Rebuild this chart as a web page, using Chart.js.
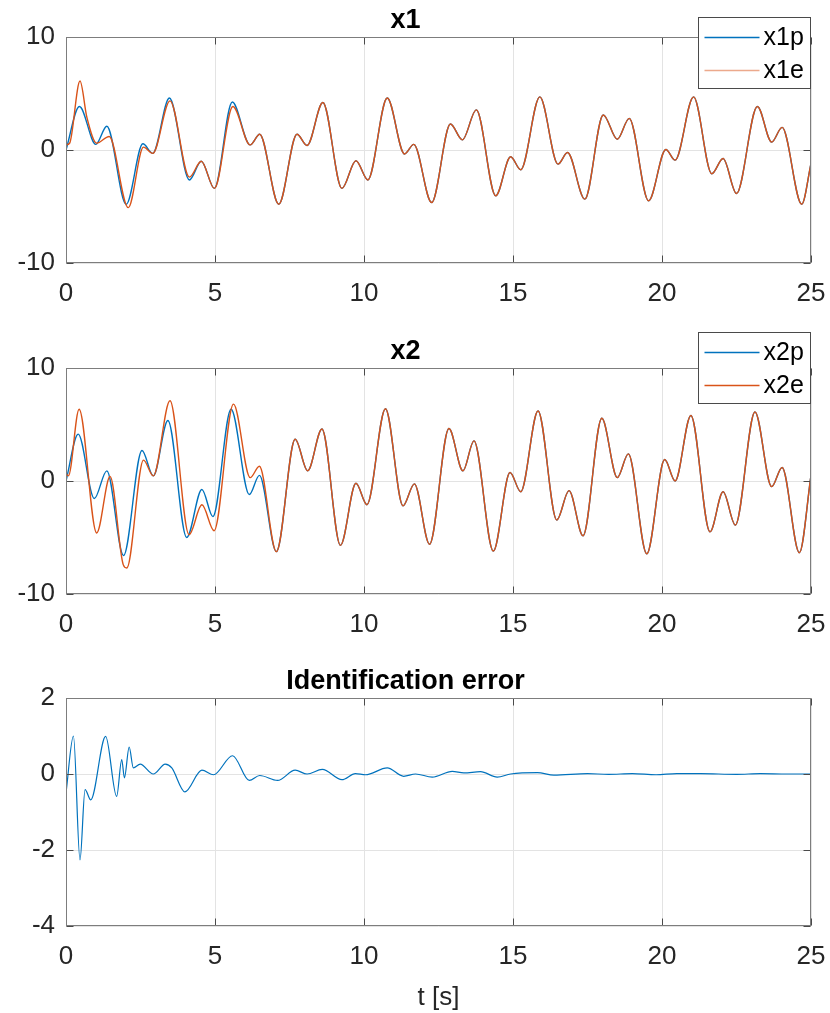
<!DOCTYPE html>
<html>
<head>
<meta charset="utf-8">
<script src="https://cdn.jsdelivr.net/npm/chart.js@4.4.1/dist/chart.umd.min.js"></script>
<style>
  html, body { margin: 0; padding: 0; background: #fff; }
  #wrap { position: relative; width: 830px; height: 1013px; }
  canvas { position: absolute; left: 0; }
</style>
</head>
<body>
<div id="wrap">
  <canvas id="c1" width="830" height="330" style="top:0px"></canvas>
  <canvas id="c2" width="830" height="330" style="top:331px"></canvas>
  <canvas id="c3" width="830" height="352" style="top:661px"></canvas>
</div>
<script>
// ---- x1: plant vs. estimate (times in s) ----
const x1pHeadT = [0, 0.45, 1.0, 1.37, 2.02, 2.58, 2.91, 3.47, 4.14, 4.54, 4.98, 5.58];
const x1pHeadV = [0, 3.85, 0.5, 2.1, -4.8, 0.55, -0.3, 4.6, -2.65, -1.0, -3.4, 4.25];
const x1eHeadT = [0, 0.12, 0.47, 0.7, 1.03, 1.45, 2.09, 2.6, 2.91, 3.49, 4.14, 4.54, 4.98, 5.6];
const x1eHeadV = [0.45, 0.6, 6.1, 2.9, 0.6, 1.2, -5.1, 0.25, -0.3, 4.35, -2.4, -1.0, -3.4, 3.85];
const x1TailT = [6.18, 6.5, 7.14, 7.75, 8.09, 8.62, 9.26, 9.73, 10.13, 10.78, 11.36, 11.67,
  12.27, 12.9, 13.3, 13.77, 14.42, 14.92, 15.26, 15.9, 16.51, 16.83, 17.41, 18.03, 18.5,
  18.9, 19.55, 20.13, 20.44, 21.06, 21.67, 22.05, 22.5, 23.2, 23.68, 24.03, 24.69, 25];
const x1TailV = [0.45, 1.4, -4.8, 1.4, 0.4, 4.2, -3.4, -0.95, -2.65, 4.6, -0.35, 0.5,
  -4.65, 2.3, 0.9, 3.55, -4.05, -0.6, -1.75, 4.7, -1.25, -0.22, -4.35, 3.1, 0.95,
  2.8, -4.5, 0.05, -0.9, 4.7, -2.1, -0.75, -3.85, 3.85, 0.7, 2.0, -4.8, -1.2];

// ---- x2: plant vs. estimate ----
const x2pHeadT = [0, 0.41, 0.95, 1.37, 1.93, 2.55, 2.93, 3.42, 4.05, 4.56, 4.93, 5.54, 6.15, 6.49];
const x2pHeadV = [0, 4.15, -1.55, 0.9, -6.6, 2.7, 0.45, 5.35, -5.0, -0.75, -3.15, 6.35, -1.2, 0.5];
const x2eHeadT = [0, 0.08, 0.44, 1.03, 1.48, 1.92, 2.04, 2.6, 2.93, 3.49, 4.13, 4.56, 4.97, 5.62, 6.18, 6.49];
const x2eHeadV = [0.7, 0.45, 6.35, -4.6, 0.4, -7.4, -7.7, 1.85, 0.45, 7.1, -4.75, -2.1, -4.4, 6.8, 0.3, 1.3];
const x2TailT = [7.06, 7.69, 8.11, 8.59, 9.21, 9.73, 10.1, 10.72, 11.31, 11.69, 12.2, 12.85,
  13.32, 13.69, 14.34, 14.9, 15.26, 15.84, 16.47, 16.88, 17.35, 17.98, 18.5, 18.87, 19.49,
  20.09, 20.44, 20.97, 21.61, 22.05, 22.46, 23.12, 23.68, 24.03, 24.61, 25];
const x2TailV = [-6.25, 3.7, 0.9, 4.6, -5.7, -0.2, -2.1, 6.4, -2.2, -0.25, -5.6, 4.65,
  0.9, 3.55, -6.2, 0.75, -0.95, 6.2, -3.45, -0.85, -4.85, 5.55, 0.3, 2.4, -6.45,
  1.9, 0.0, 5.8, -4.5, -0.95, -3.9, 6.1, -0.5, 1.2, -6.35, 0.5];

// ---- identification error ----
const errT = [0, 0.25, 0.47, 0.64, 0.83, 1.33, 1.7, 1.87, 1.96, 2.12, 2.26, 2.49, 2.93, 3.33,
  3.55, 3.99, 4.56, 4.95, 5.59, 6.15, 6.5, 7.1, 7.69, 8.09, 8.6, 9.26, 9.71, 10.05, 10.78,
  11.33, 11.73, 12.29, 12.96, 13.35, 13.91, 14.47, 14.92, 15.82, 16.37, 17.5, 18.2, 19.0,
  19.8, 20.5, 21.3, 22.5, 23.3, 24.2, 25];
const errV = [-0.5, 1.0, -2.26, -0.41, -0.68, 0.99, -0.59, 0.38, -0.1, 0.71, 0.16, 0.26, 0.0, 0.26,
  0.16, -0.47, 0.1, -0.02, 0.48, -0.17, -0.04, -0.17, 0.1, 0.0, 0.12, -0.15, 0.01, -0.02, 0.16,
  -0.06, 0.0, -0.08, 0.07, 0.03, 0.06, -0.08, 0.0, 0.035, -0.03, 0.01, -0.01, 0.01,
  -0.02, 0.01, 0.01, -0.01, 0.01, 0.0, 0.0];

const xTicks = [0, 5, 10, 15, 20, 25];

const BLUE = '#0072BD';
const ORANGE = '#D95319';
const FONT = '"Liberation Sans", Arial, Helvetica, sans-serif';
const TEXT = '#262626';

Chart.defaults.font.family = FONT;
Chart.defaults.color = TEXT;

const pts = (ts, vs) => ts.map((t, i) => ({ x: t, y: vs[i] }));

// axes box plus MATLAB-style inward tick marks
const boxTicks = {
  id: 'boxTicks',
  afterDatasetsDraw(chart) {
    const { ctx, chartArea: a, scales } = chart;
    const L = Math.round(a.left) + 0.5, R = Math.round(a.right) - 0.5;
    const T = Math.round(a.top) + 0.5, B = Math.round(a.bottom) - 0.5;
    ctx.save();
    ctx.lineWidth = 1;
    ctx.strokeStyle = '#4a4a4a';
    ctx.beginPath();
    scales.x.ticks.forEach(tk => {
      const px = Math.round(scales.x.getPixelForValue(tk.value)) + 0.5;
      ctx.moveTo(px, B); ctx.lineTo(px, B - 7);
      ctx.moveTo(px, T); ctx.lineTo(px, T + 7);
    });
    scales.y.ticks.forEach(tk => {
      const py = Math.round(scales.y.getPixelForValue(tk.value)) + 0.5;
      ctx.moveTo(L, py); ctx.lineTo(L + 7, py);
      ctx.moveTo(R, py); ctx.lineTo(R - 7, py);
    });
    ctx.stroke();
    ctx.strokeStyle = '#7d7d7d';
    ctx.strokeRect(L, T, R - L, B - T);
    ctx.restore();
  }
};

// boxed legend in the upper right corner
const boxLegend = {
  id: 'boxLegend',
  afterDraw(chart, args, opts) {
    if (!opts || !opts.show) return;
    const { ctx, chartArea: a } = chart;
    const w = 113, h = 71;
    const left = Math.round(a.right - w) + 0.5, top = opts.top + 0.5;
    ctx.save();
    ctx.fillStyle = '#fff';
    ctx.fillRect(left, top, w - 1, h);
    ctx.strokeStyle = '#4a4a4a';
    ctx.lineWidth = 1;
    ctx.strokeRect(left, top, w - 1, h);
    ctx.font = '25px ' + FONT;
    ctx.textBaseline = 'middle';
    chart.data.datasets.forEach((ds, i) => {
      const y = Math.round(top + 19 + i * 33) + 0.5;
      ctx.strokeStyle = (opts.lineColors && opts.lineColors[i]) || ds.borderColor;
      ctx.lineWidth = 1.4;
      ctx.beginPath();
      ctx.moveTo(left + 6, y); ctx.lineTo(left + 61, y);
      ctx.stroke();
      ctx.fillStyle = '#000';
      ctx.fillText(ds.label, left + 65, y + 1);
    });
    ctx.restore();
  }
};

function makeChart(id, title, datasets, yMin, yMax, yStep, xAxisH, legend, xTitle) {
  return new Chart(document.getElementById(id), {
    type: 'line',
    data: { datasets },
    plugins: [boxTicks, boxLegend],
    options: {
      responsive: false,
      animation: false,
      devicePixelRatio: 1,
      layout: { padding: { left: 0, right: 19, top: 0, bottom: 0 } },
      elements: {
        point: { radius: 0 },
        line: { borderWidth: 1.4, cubicInterpolationMode: 'monotone' }
      },
      plugins: {
        legend: { display: false },
        tooltip: { enabled: false },
        title: {
          display: true,
          text: title,
          color: '#000',
          font: { size: 27, weight: 'bold' },
          padding: { top: 4, bottom: 0.6 }
        },
        boxLegend: legend
      },
      scales: {
        x: {
          type: 'linear',
          min: 0, max: 25,
          afterBuildTicks: s => { s.ticks = xTicks.map(v => ({ value: v })); },
          afterFit: s => { s.height = xAxisH; s.paddingLeft = 0; s.paddingRight = 0; },
          ticks: { font: { size: 26 }, color: TEXT, padding: 15, maxRotation: 0 },
          grid: { color: '#e3e3e3', drawTicks: false },
          border: { display: false },
          title: xTitle ? { display: true, text: xTitle, font: { size: 26 }, color: TEXT, padding: 0 } : { display: false }
        },
        y: {
          min: yMin, max: yMax,
          ticks: { stepSize: yStep, font: { size: 26 }, color: TEXT, padding: 11 },
          afterFit: s => { s.width = 66; },
          grid: { color: '#e3e3e3', drawTicks: false },
          border: { display: false }
        }
      }
    }
  });
}

// estimate (orange) is drawn over the plant output (blue)
makeChart('c1', 'x1', [
  { label: 'x1p', data: pts(x1pHeadT.concat(x1TailT), x1pHeadV.concat(x1TailV)), borderColor: BLUE, order: 1 },
  { label: 'x1e', data: pts(x1eHeadT.concat(x1TailT), x1eHeadV.concat(x1TailV)), borderColor: ORANGE, order: 0 }
], -10, 10, 10, 67, { show: true, top: 17, lineColors: [BLUE, 'rgba(217,83,25,0.5)'] });

makeChart('c2', 'x2', [
  { label: 'x2p', data: pts(x2pHeadT.concat(x2TailT), x2pHeadV.concat(x2TailV)), borderColor: BLUE, order: 1 },
  { label: 'x2e', data: pts(x2eHeadT.concat(x2TailT), x2eHeadV.concat(x2TailV)), borderColor: ORANGE, order: 0 }
], -10, 10, 10, 67, { show: true, top: 1 });

makeChart('c3', 'Identification error', [
  { label: 'error', data: pts(errT, errV), borderColor: BLUE, borderWidth: 1.2 }
], -4, 2, 2, 87, { show: false }, 't [s]');
</script>
</body>
</html>
